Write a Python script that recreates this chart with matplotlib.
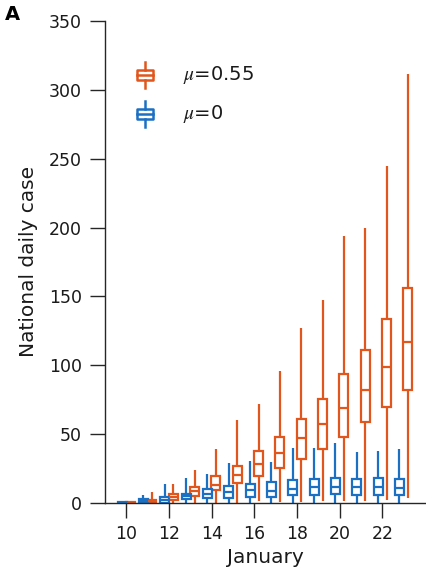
import matplotlib
matplotlib.use("Agg")
import matplotlib.pyplot as plt
from matplotlib.patches import Rectangle
from matplotlib.lines import Line2D

plt.rcParams['font.family'] = ['DejaVu Sans']
plt.rcParams['mathtext.fontset'] = 'stix'

days = [10, 11, 12, 13, 14, 15, 16, 17, 18, 19, 20, 21, 22, 23]
tick_days = [10, 12, 14, 16, 18, 20, 22]

# mu = 0.55 series (orange)
o_lo = [0, 0, 0, 0, 0, 0, 1, 0.5, 0.5, 1, 1, 1, 2, 3]
o_q1 = [0, 0, 1.7, 5, 8.9, 14.2, 19, 25, 32, 39, 47.6, 58.7, 69.3, 81.5]
o_med = [0, 1, 4, 8.2, 13, 20.2, 28.1, 35.8, 47.1, 57, 68.8, 81.8, 98.6, 116.4]
o_q3 = [0.5, 2, 6.2, 11, 19, 26.7, 37.7, 47.4, 60.6, 75.5, 93.6, 110.9, 133.2, 156.1]
o_hi = [0.5, 7.7, 13.7, 23.8, 38.7, 59.9, 71.4, 95.5, 127.2, 147, 194, 200, 245, 311.5]

# mu = 0 series (blue)
b_lo = [0, 0, 0, 0, 0, 0, 0, 0, 0, 0, 0, 0, 0, 0]
b_q1 = [0, 0, 0, 2.2, 3.4, 3.4, 4.1, 4, 5.3, 5.3, 6.3, 5.8, 5.8, 5.3]
b_med = [0, 1, 2, 4.6, 6.5, 7.7, 8.9, 8.2, 9.9, 11, 11, 11, 11, 10.6]
b_q3 = [0.5, 2.5, 4.1, 6.5, 9.9, 11.8, 13.7, 14.7, 16.1, 17.1, 18, 17.1, 18, 17.1]
b_hi = [0.5, 5.8, 13.7, 17.8, 20.7, 28.6, 30.5, 29.8, 39.9, 39.9, 43.5, 36.6, 37.7, 38.7]

labels = [r"$\mu$=0.55", r"$\mu$=0"]
ORANGE = '#E0561C'
BLUE = '#1C70C4'
AXC = '#262626'
TXT = '#1a1a1a'

fig = plt.figure(figsize=(4.27, 5.70), dpi=100)
ax = fig.add_axes([0.2459, 0.1184, 0.7494, 0.8442])


def stats(lo, q1, med, q3, hi):
    return [dict(whislo=a, q1=b, med=c, q3=d, whishi=e, fliers=[])
            for a, b, c, d, e in zip(lo, q1, med, q3, hi)]


def draw(st, offset, color):
    pos = [d + offset for d in days]
    lw = 1.6
    ax.bxp(st, positions=pos, widths=0.42, showcaps=False, showfliers=False,
           patch_artist=True, manage_ticks=False,
           boxprops=dict(facecolor='white', edgecolor=color, linewidth=lw),
           whiskerprops=dict(color=color, linewidth=lw, solid_capstyle='butt'),
           medianprops=dict(color=color, linewidth=lw))


draw(stats(o_lo, o_q1, o_med, o_q3, o_hi), 0.2, ORANGE)
draw(stats(b_lo, b_q1, b_med, b_q3, b_hi), -0.2, BLUE)

ax.set_xlim(9, 24)
ax.set_ylim(0, 350)
ax.set_xticks(tick_days)
ax.set_xticklabels([str(d) for d in tick_days])
ax.set_yticks(range(0, 351, 50))
for s in ['top', 'right']:
    ax.spines[s].set_visible(False)
for s in ['left', 'bottom']:
    ax.spines[s].set_color(AXC)
    ax.spines[s].set_linewidth(1.0)
ax.tick_params(direction='out', length=10.5, width=1.0, color=AXC,
               labelsize=12.5, labelcolor=TXT, pad=6)
ax.set_xlabel('January', fontsize=14.5, color=TXT, labelpad=3)
ax.set_ylabel('National daily case', fontsize=14.5, color=TXT, labelpad=8)

# legend glyphs
for (yc, color, lab) in [(0.889, ORANGE, labels[0]), (0.808, BLUE, labels[1])]:
    xc = 0.125
    bw, bh, wh = 0.05, 0.02, 0.027
    ax.add_patch(Rectangle((xc - bw / 2, yc - bh / 2), bw, bh, transform=ax.transAxes,
                           facecolor='white', edgecolor=color, linewidth=1.8,
                           clip_on=False, joinstyle='round'))
    ax.add_line(Line2D([xc - bw / 2, xc + bw / 2], [yc, yc], transform=ax.transAxes,
                       color=color, linewidth=1.8, clip_on=False))
    ax.add_line(Line2D([xc, xc], [yc + bh / 2, yc + wh], transform=ax.transAxes,
                       color=color, linewidth=1.8, clip_on=False))
    ax.add_line(Line2D([xc, xc], [yc - bh / 2, yc - wh], transform=ax.transAxes,
                       color=color, linewidth=1.8, clip_on=False))
    ax.text(0.244, yc, lab, transform=ax.transAxes, fontsize=14, va='center',
            ha='left', color=TXT)

fig.text(0.012, 0.974, 'A', fontsize=14, fontweight='bold', va='center', ha='left')

fig.savefig('out.png', dpi=100)
